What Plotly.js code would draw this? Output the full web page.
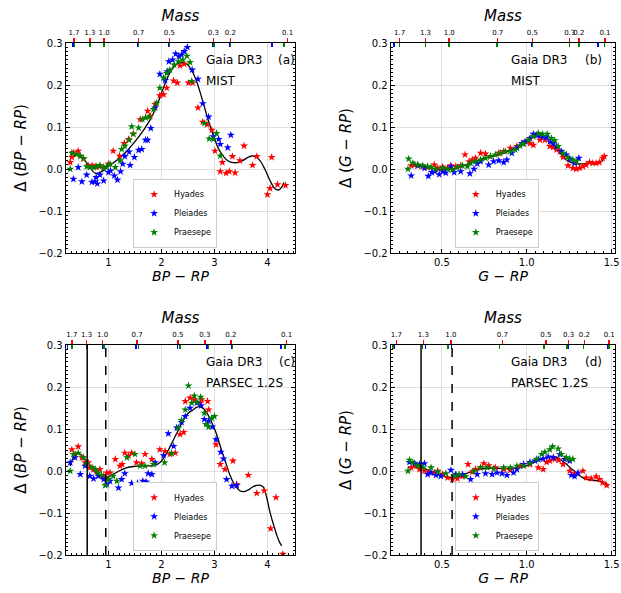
<!DOCTYPE html>
<html><head><meta charset="utf-8">
<script src="https://cdn.plot.ly/plotly-3.0.1.min.js"></script>
<style>body{margin:0;background:#fff}#chart{width:621px;height:593px}</style>
</head><body><div id="chart"></div>
<script>
// ---------- DATA ----------
const clusters = ['Hyades','Pleiades','Praesepe'];
const massLabels = ['1.7','1.3','1.0','0.7','0.5','0.3','0.2','0.1'];

// Panel (a): Delta(BP-RP) vs BP-RP, MIST
const aHyX = [0.28,0.31,0.34,0.43,0.47,0.53,0.62,0.69,0.75,0.83,0.91,1.00,1.09,1.21,1.30,1.38,1.47,1.60,1.74,1.79,1.88,1.97,2.04,2.10,2.23,2.30,2.35,2.43,2.51,2.59,2.69,2.78,2.86,2.95,3.01,3.11,3.15,3.22,3.28,3.34,3.39,3.48,3.56,3.72,3.80,4.00,4.05,4.08,4.19,4.34];
const aHyY = [0.016,0.028,0.039,0.043,0.031,0.024,0.008,0.008,0.006,0.006,0.004,0.012,0.043,0.031,0.061,0.071,0.084,0.118,0.138,0.126,0.154,0.175,0.177,0.193,0.210,0.205,0.246,0.250,0.205,0.205,0.146,0.112,0.106,0.093,0.043,-0.006,0.016,-0.010,-0.006,0.030,-0.009,0.020,0.055,0.009,0.030,-0.061,-0.046,0.028,-0.037,-0.039];
const aPlX = [0.34,0.43,0.50,0.59,0.69,0.74,0.79,0.77,0.84,0.91,1.00,1.04,1.11,1.17,1.23,1.27,1.31,1.39,1.41,1.49,1.57,1.63,1.70,1.74,1.80,1.88,1.97,2.07,2.11,2.14,2.21,2.27,2.33,2.38,2.43,2.49,2.58,2.69,2.78,2.89,2.98,3.08,3.11,3.25,3.31];
const aPlY = [-0.024,0.004,-0.030,-0.014,-0.031,-0.030,-0.035,-0.020,-0.014,-0.028,-0.008,-0.004,-0.016,-0.026,-0.006,0.012,0.030,0.041,0.009,0.028,0.045,0.047,0.069,0.069,0.097,0.146,0.226,0.211,0.232,0.256,0.260,0.274,0.268,0.272,0.280,0.290,0.236,0.214,0.156,0.124,0.077,0.071,0.059,0.051,0.081];
const aPrX = [0.28,0.31,0.40,0.47,0.53,0.59,0.65,0.72,0.78,0.84,0.91,0.97,1.03,1.13,1.22,1.25,1.31,1.39,1.44,1.47,1.57,1.64,1.70,1.77,1.85,1.91,1.97,2.04,2.10,2.16,2.24,2.32,2.40,2.48,2.54,2.57,2.81,2.90,2.98,3.04,3.11];
const aPrY = [0.000,0.038,0.035,0.031,0.025,0.006,0.004,0.004,0.006,0.009,0.002,0.006,0.012,0.004,0.020,0.047,0.055,0.069,0.101,0.083,0.098,0.118,0.122,0.124,0.142,0.157,0.193,0.217,0.228,0.236,0.248,0.256,0.260,0.269,0.254,0.209,0.109,0.072,0.071,0.085,0.031];
const aFitX = [0.35,0.40,0.50,0.62,0.75,0.88,1.00,1.17,1.35,1.50,1.66,1.80,1.91,2.00,2.10,2.20,2.32,2.40,2.48,2.60,2.70,2.79,2.88,2.98,3.07,3.17,3.26,3.36,3.45,3.55,3.62,3.70,3.78,3.86,3.95,4.05,4.13,4.21,4.27,4.31];
const aFitY = [0.031,0.035,0.028,0.010,-0.010,-0.006,0.006,0.022,0.043,0.065,0.092,0.120,0.150,0.180,0.213,0.238,0.252,0.253,0.250,0.228,0.195,0.157,0.118,0.080,0.050,0.030,0.019,0.015,0.016,0.021,0.027,0.031,0.029,0.020,0.000,-0.028,-0.045,-0.050,-0.043,-0.032];
const aMassHy = [0.35,0.65,0.92,1.57,2.15,2.98,3.30,4.38];
const aMassPl = [0.33,0.64,0.91,1.55,2.14,2.97,3.29,4.09];
const aMassPr = [0.36,0.65,0.92,1.57,2.15,2.99,3.30,4.31];

// Panel (b): Delta(G-RP) vs G-RP, MIST
const bHyX = [0.319,0.339,0.358,0.387,0.416,0.455,0.475,0.504,0.533,0.553,0.582,0.611,0.636,0.660,0.679,0.698,0.728,0.757,0.786,0.835,0.864,0.903,0.942,0.981,1.000,1.019,1.039,1.078,1.107,1.136,1.156,1.175,1.195,1.214,1.243,1.272,1.292,1.311,1.331,1.350,1.370,1.389,1.409,1.428,1.447,1.457];
const bHyY = [0.008,0.010,0.008,0.006,0.004,0.010,0.002,0.005,0.002,0.008,0.006,0.008,0.034,0.018,0.022,0.026,0.038,0.036,0.030,0.038,0.042,0.050,0.054,0.061,0.065,0.061,0.057,0.069,0.069,0.054,0.052,0.046,0.042,0.028,0.008,0.002,0.000,0.002,0.006,0.010,0.016,0.014,0.014,0.016,0.026,0.030];
const bPlX = [0.319,0.358,0.397,0.420,0.440,0.459,0.484,0.504,0.523,0.553,0.572,0.611,0.665,0.689,0.708,0.728,0.776,0.805,0.835,0.864,0.883,0.912,0.942,0.971,0.990,1.019,1.039,1.058,1.078,1.097,1.117,1.136,1.156,1.175,1.204,1.233,1.253,1.282,1.307];
const bPlY = [-0.016,0.008,0.002,-0.017,-0.008,-0.006,-0.013,-0.006,-0.009,0.006,-0.008,-0.006,-0.011,0.000,0.013,0.018,0.010,0.018,0.020,0.016,0.022,0.038,0.050,0.061,0.065,0.073,0.083,0.081,0.079,0.077,0.076,0.065,0.061,0.054,0.042,0.034,0.024,0.014,0.026];
const bPrX = [0.300,0.304,0.329,0.358,0.387,0.416,0.436,0.465,0.504,0.533,0.562,0.591,0.621,0.650,0.669,0.698,0.728,0.757,0.786,0.815,0.844,0.874,0.903,0.932,0.961,0.981,1.010,1.039,1.068,1.093,1.121,1.146,1.165,1.185,1.214,1.243,1.272,1.292];
const bPrY = [0.000,0.024,0.014,0.010,0.008,0.006,0.004,0.000,0.002,0.000,-0.002,0.004,0.008,0.006,0.014,0.018,0.022,0.026,0.030,0.034,0.038,0.042,0.042,0.046,0.055,0.060,0.069,0.077,0.085,0.083,0.083,0.073,0.068,0.054,0.038,0.028,0.022,0.018];
const bFitX = [0.31,0.35,0.40,0.45,0.50,0.55,0.60,0.65,0.70,0.75,0.80,0.85,0.90,0.95,1.00,1.04,1.08,1.12,1.16,1.20,1.24,1.28,1.32,1.36,1.40,1.44,1.46];
const bFitY = [0.010,0.008,0.004,0.001,-0.001,0.000,0.004,0.011,0.019,0.025,0.030,0.036,0.044,0.056,0.069,0.076,0.077,0.072,0.057,0.036,0.020,0.013,0.012,0.014,0.014,0.018,0.028];
const bMassHy = [0.251,0.403,0.543,0.829,1.033,1.253,1.307,1.461];
const bMassPl = [0.218,0.403,0.543,0.825,1.029,1.253,1.307,1.420];
const bMassPr = [0.251,0.403,0.543,0.825,1.033,1.253,1.307,1.459];

// Panel (c): Delta(BP-RP) vs BP-RP, PARSEC 1.2S
const cHyX = [0.31,0.37,0.43,0.50,0.56,0.62,0.65,0.72,0.78,0.84,0.91,0.97,1.03,1.13,1.22,1.26,1.31,1.38,1.44,1.53,1.63,1.69,1.82,1.97,2.07,2.16,2.26,2.35,2.42,2.45,2.54,2.62,2.73,2.76,2.87,2.89,3.03,3.11,3.20,3.35,3.42,3.64,3.80,3.94,4.06,4.16,4.29];
const cHyY = [0.051,0.040,0.058,0.032,0.020,0.020,0.008,0.004,0.000,0.004,-0.012,-0.004,-0.004,0.028,0.012,0.016,0.043,0.036,0.043,0.020,0.018,0.040,0.028,0.051,0.047,0.040,0.043,0.087,0.092,0.166,0.174,0.170,0.162,0.170,0.166,0.146,0.063,0.016,0.004,0.024,-0.032,-0.010,-0.053,-0.047,-0.137,-0.063,-0.198];
const cPlX = [0.28,0.37,0.47,0.56,0.65,0.72,0.81,0.91,0.97,1.03,1.19,1.25,1.31,1.44,1.55,1.65,1.71,1.75,1.82,1.88,2.04,2.13,2.23,2.29,2.38,2.45,2.54,2.67,2.75,2.81,2.89,2.96,3.03,3.12,3.17,3.23,3.33,3.42];
const cPlY = [0.020,0.032,-0.008,0.012,-0.012,-0.018,-0.012,-0.020,-0.032,-0.024,-0.040,-0.020,-0.006,-0.029,-0.029,-0.024,-0.026,-0.006,-0.008,0.020,0.037,0.089,0.059,0.103,0.116,0.130,0.150,0.162,0.156,0.123,0.119,0.105,0.075,0.045,0.029,-0.020,-0.036,-0.034];
const cPrX = [0.28,0.34,0.43,0.53,0.59,0.69,0.75,0.81,0.87,0.94,1.00,1.09,1.16,1.35,1.50,1.60,1.69,1.85,2.06,2.19,2.32,2.38,2.45,2.51,2.57,2.62,2.67,2.74,2.81,2.84,2.89,2.95,3.00];
const cPrY = [0.000,0.040,0.043,0.032,0.018,0.009,0.004,-0.004,-0.010,-0.034,-0.020,-0.012,-0.024,0.032,0.040,0.012,0.012,0.016,0.020,0.042,0.103,0.121,0.146,0.203,0.162,0.179,0.164,0.176,0.138,0.111,0.105,0.126,0.130];
const cFitX = [0.28,0.34,0.40,0.47,0.53,0.59,0.66,0.72,0.78,0.85,0.94,1.02,1.09,1.20,1.35,1.50,1.60,1.72,1.85,1.95,2.04,2.13,2.23,2.33,2.42,2.51,2.60,2.67,2.73,2.80,2.86,2.92,2.98,3.05,3.11,3.20,3.30,3.39,3.48,3.56,3.64,3.72,3.80,3.87,3.92,3.98,4.05,4.12,4.18,4.23,4.27];
const cFitY = [0.012,0.033,0.043,0.040,0.032,0.024,0.012,0.002,-0.008,-0.014,-0.016,-0.013,-0.008,0.000,0.008,0.011,0.012,0.012,0.013,0.018,0.030,0.050,0.075,0.100,0.123,0.138,0.146,0.152,0.153,0.148,0.138,0.124,0.107,0.084,0.059,0.025,-0.012,-0.035,-0.047,-0.049,-0.045,-0.038,-0.034,-0.034,-0.038,-0.060,-0.099,-0.130,-0.154,-0.170,-0.178];
const cMassHy = [0.31,0.59,0.89,1.54,2.31,2.82,3.31,4.36];
const cMassPl = [0.23,0.59,0.89,1.52,2.30,2.86,3.33,4.26];
const cMassPr = [0.31,0.60,0.92,1.57,2.35,2.89,3.34,4.33];
const cSolidLine = [0.60];
const cDashedLine = [0.95];

// Panel (d): Delta(G-RP) vs G-RP, PARSEC 1.2S
const dHyX = [0.319,0.348,0.368,0.397,0.426,0.455,0.475,0.504,0.533,0.562,0.591,0.621,0.654,0.679,0.698,0.728,0.747,0.776,0.815,0.864,0.903,0.961,1.019,1.068,1.097,1.117,1.136,1.165,1.189,1.214,1.253,1.282,1.331,1.350,1.379,1.409,1.428,1.447,1.471];
const dHyY = [0.008,0.012,0.004,0.000,-0.004,-0.004,0.000,-0.008,-0.016,-0.020,-0.018,-0.013,0.016,-0.002,0.004,0.008,0.018,0.013,0.008,0.004,0.002,0.012,0.016,0.008,0.004,0.021,0.024,0.028,0.026,0.016,0.000,-0.006,0.000,-0.016,-0.018,-0.013,-0.020,-0.028,-0.034];
const dPlX = [0.309,0.339,0.368,0.397,0.416,0.436,0.465,0.494,0.553,0.582,0.621,0.669,0.708,0.757,0.796,0.825,0.854,0.883,0.922,0.942,0.981,1.019,1.049,1.068,1.097,1.126,1.156,1.195,1.224,1.253,1.263,1.282,1.302];
const dPlY = [0.021,0.018,0.016,0.018,-0.008,-0.004,-0.010,-0.012,0.002,-0.008,-0.008,-0.020,-0.008,-0.006,-0.008,-0.004,-0.006,-0.010,-0.004,0.004,0.016,0.021,0.024,0.028,0.029,0.034,0.032,0.040,0.028,0.024,-0.010,-0.013,-0.004];
const dPrX = [0.300,0.309,0.329,0.358,0.387,0.436,0.475,0.523,0.572,0.601,0.640,0.689,0.728,0.767,0.805,0.864,0.903,0.942,0.981,1.019,1.058,1.088,1.107,1.136,1.152,1.185,1.204,1.233,1.253,1.272];
const dPrY = [0.000,0.026,0.020,0.013,0.008,0.008,-0.002,-0.006,-0.012,-0.008,-0.013,0.000,0.008,0.008,0.006,0.008,0.008,0.012,0.012,0.018,0.028,0.040,0.045,0.051,0.058,0.053,0.040,0.032,0.029,0.028];
const dFitX = [0.30,0.34,0.38,0.42,0.47,0.51,0.56,0.60,0.65,0.70,0.75,0.80,0.86,0.92,0.96,1.00,1.04,1.08,1.12,1.165,1.21,1.24,1.26,1.28,1.30,1.33,1.35,1.39,1.43,1.46,1.48];
const dFitY = [0.008,0.010,0.009,0.002,-0.008,-0.013,-0.016,-0.013,-0.005,0.002,0.006,0.007,0.006,0.007,0.009,0.013,0.020,0.027,0.032,0.034,0.024,0.014,0.006,0.000,-0.008,-0.016,-0.020,-0.022,-0.024,-0.028,-0.036];
const dMassHy = [0.232,0.391,0.553,0.856,1.113,1.247,1.339,1.486];
const dMassPl = [0.218,0.403,0.556,0.840,1.101,1.247,1.335,1.479];
const dMassPr = [0.212,0.387,0.537,0.840,1.101,1.237,1.335,1.486];
const dSolidLine = [0.377];
const dDashedLine = [0.56];

// ---------- STYLE / LAYOUT ----------
const F = 'DejaVu Sans, sans-serif';
const COLORS = ['#ff0000','#0000ff','#008000'];
const RANGE_BP = [0.2, 4.52], RANGE_G = [0.2, 1.52], RANGE_Y = [-0.2, 0.3];
const xDomL = [66/621, 295/621], xDomR = [391/621, 615/621];
const yDomT = [1-253/593, 1-43/593], yDomB = [1-555/593, 1-345/593];

const bpTitle = '<i>BP</i> − <i>RP</i>';
const gTitle = '<i>G</i> − <i>RP</i>';
const dbpTitle = 'Δ (<i>BP</i> − <i>RP</i>)';
const dgTitle = 'Δ (<i>G</i> − <i>RP</i>)';

function mainX(dom, anchor, range, dtick, minor, fmt, title) {
  return {domain: dom, anchor: anchor, range: range, dtick: dtick, tick0: 0, tickformat: fmt,
    ticks: 'inside', ticklen: 4, tickwidth: 1, tickcolor: 'black',
    mirror: true, showline: true, linecolor: 'black', linewidth: 1.3,
    showgrid: true, gridcolor: '#dedede', gridwidth: 1, zeroline: false,
    minor: {ticks: 'inside', ticklen: 2, dtick: minor, tickcolor: 'black', showgrid: false},
    tickfont: {family: F, size: 10, color: 'black'},
    title: {text: title, font: {family: F, size: 14, color: 'black'}, standoff: 3}};
}
function mainY(dom, anchor, title) {
  return {domain: dom, anchor: anchor, range: RANGE_Y, dtick: 0.1, tick0: 0, tickformat: '.1f',
    ticks: 'inside', ticklen: 4, tickwidth: 1, tickcolor: 'black',
    mirror: 'ticks', showline: true, linecolor: 'black', linewidth: 1.3,
    showgrid: true, gridcolor: '#dedede', gridwidth: 1, zeroline: false,
    minor: {ticks: 'inside', ticklen: 2, dtick: 0.01, tickcolor: 'black', showgrid: false},
    tickfont: {family: F, size: 10, color: 'black'},
    title: {text: title, font: {family: F, size: 15, color: 'black'}, standoff: 8}};
}
function topAx(overlay, anchor, range, vals, color, withLabels) {
  const ax = {overlaying: overlay, anchor: anchor, side: 'top', range: range,
    tickmode: 'array', tickvals: vals, ticktext: withLabels ? massLabels : vals.map(() => ''),
    ticks: withLabels ? 'outside' : 'inside', ticklen: 4, tickwidth: 1.5, tickcolor: color,
    showgrid: false, zeroline: false, showline: false, showticklabels: withLabels,
    tickangle: 0, tickfont: {family: F, size: 7, color: 'black'}};
  if (withLabels) ax.title = {text: '<i>Mass</i>', font: {family: F, size: 15, color: 'black'}, standoff: 3};
  return ax;
}
function leg(x, y) {
  return {x: x, y: y, xref: 'paper', yref: 'paper', xanchor: 'center', yanchor: 'bottom',
    bgcolor: 'white', bordercolor: '#cccccc', borderwidth: 1,
    font: {family: F, size: 8, color: 'black'}, itemwidth: 30, tracegroupgap: 0};
}

const panels = [
  {xa: 'x',  ya: 'y',  lg: 'legend',  sets: [[aHyX,aHyY],[aPlX,aPlY],[aPrX,aPrY]], fit: [aFitX,aFitY]},
  {xa: 'x3', ya: 'y2', lg: 'legend2', sets: [[bHyX,bHyY],[bPlX,bPlY],[bPrX,bPrY]], fit: [bFitX,bFitY]},
  {xa: 'x5', ya: 'y3', lg: 'legend3', sets: [[cHyX,cHyY],[cPlX,cPlY],[cPrX,cPrY]], fit: [cFitX,cFitY]},
  {xa: 'x7', ya: 'y4', lg: 'legend4', sets: [[dHyX,dHyY],[dPlX,dPlY],[dPrX,dPrY]], fit: [dFitX,dFitY]}
];

const traces = [];
panels.forEach(p => {
  traces.push({type: 'scatter', mode: 'lines', x: p.fit[0], y: p.fit[1], xaxis: p.xa, yaxis: p.ya,
    line: {color: 'black', width: 1.3, shape: 'spline', smoothing: 1}, showlegend: false, hoverinfo: 'skip'});
  p.sets.forEach((s, i) => {
    traces.push({type: 'scatter', mode: 'markers', x: s[0], y: s[1], xaxis: p.xa, yaxis: p.ya,
      name: clusters[i], legend: p.lg,
      marker: {symbol: 'star', size: 6, color: COLORS[i], line: {width: 0}}});
  });
});

// attach (invisible) traces to the mass axes so that they get drawn
const massAxes = [
  ['x9','y',aMassPl],['x10','y',aMassPr],['x2','y',aMassHy],
  ['x11','y2',bMassPl],['x12','y2',bMassPr],['x4','y2',bMassHy],
  ['x13','y3',cMassPl],['x14','y3',cMassPr],['x6','y3',cMassHy],
  ['x15','y4',dMassPl],['x16','y4',dMassPr],['x8','y4',dMassHy]
];
massAxes.forEach(([xa, ya, vals]) => {
  traces.push({type: 'scatter', mode: 'none', x: vals, y: vals.map(() => null), xaxis: xa, yaxis: ya,
    showlegend: false, hoverinfo: 'skip'});
});

const layout = {
  width: 621, height: 593, margin: {l: 0, r: 0, t: 0, b: 0},
  paper_bgcolor: 'white', plot_bgcolor: 'white', font: {family: F, color: 'black'},
  xaxis:  mainX(xDomL, 'y',  RANGE_BP, 1, 0.1, 'd', bpTitle),
  xaxis3: mainX(xDomR, 'y2', RANGE_G, 0.5, 0.05, '.1f', gTitle),
  xaxis5: mainX(xDomL, 'y3', RANGE_BP, 1, 0.1, 'd', bpTitle),
  xaxis7: mainX(xDomR, 'y4', RANGE_G, 0.5, 0.05, '.1f', gTitle),
  yaxis:  mainY(yDomT, 'x',  dbpTitle),
  yaxis2: mainY(yDomT, 'x3', dgTitle),
  yaxis3: mainY(yDomB, 'x5', dbpTitle),
  yaxis4: mainY(yDomB, 'x7', dgTitle),
  xaxis9:  topAx('x',  'y',  RANGE_BP, aMassPl, COLORS[1], false),
  xaxis10: topAx('x',  'y',  RANGE_BP, aMassPr, COLORS[2], false),
  xaxis2:  topAx('x',  'y',  RANGE_BP, aMassHy, COLORS[0], true),
  xaxis11: topAx('x3', 'y2', RANGE_G, bMassPl, COLORS[1], false),
  xaxis12: topAx('x3', 'y2', RANGE_G, bMassPr, COLORS[2], false),
  xaxis4:  topAx('x3', 'y2', RANGE_G, bMassHy, COLORS[0], true),
  xaxis13: topAx('x5', 'y3', RANGE_BP, cMassPl, COLORS[1], false),
  xaxis14: topAx('x5', 'y3', RANGE_BP, cMassPr, COLORS[2], false),
  xaxis6:  topAx('x5', 'y3', RANGE_BP, cMassHy, COLORS[0], true),
  xaxis15: topAx('x7', 'y4', RANGE_G, dMassPl, COLORS[1], false),
  xaxis16: topAx('x7', 'y4', RANGE_G, dMassPr, COLORS[2], false),
  xaxis8:  topAx('x7', 'y4', RANGE_G, dMassHy, COLORS[0], true),
  legend:  leg(0.282, 0.582),
  legend2: leg(0.80, 0.582),
  legend3: leg(0.282, 0.0708),
  legend4: leg(0.80, 0.0708),
  shapes: [],
  annotations: [],
  showlegend: true
};

[['x5','y3',cSolidLine,cDashedLine],['x7','y4',dSolidLine,dDashedLine]].forEach(([xa, ya, sol, das]) => {
  sol.forEach(v => layout.shapes.push({type: 'line', xref: xa, yref: ya + ' domain', x0: v, x1: v, y0: 0, y1: 1,
    line: {color: 'black', width: 1.5}}));
  das.forEach(v => layout.shapes.push({type: 'line', xref: xa, yref: ya + ' domain', x0: v, x1: v, y0: 0, y1: 1,
    line: {color: 'black', width: 1.5, dash: 'dash'}}));
});

const ann = [
  ['x','y',0.603,0.964,'(a)','MIST'],
  ['x3','y2',0.527,0.906,'(b)','MIST'],
  ['x5','y3',0.603,0.964,'(c)','PARSEC 1.2S'],
  ['x7','y4',0.527,0.906,'(d)','PARSEC 1.2S']
];
ann.forEach(([xa, ya, gx, lx, lab, model]) => {
  const base = {xref: xa + ' domain', yref: ya + ' domain', showarrow: false, yanchor: 'middle',
    font: {family: F, size: 12, color: 'black'}};
  layout.annotations.push(Object.assign({}, base, {x: gx, y: 0.917, xanchor: 'left', text: 'Gaia DR3'}));
  layout.annotations.push(Object.assign({}, base, {x: lx, y: 0.917, xanchor: 'center', text: lab}));
  layout.annotations.push(Object.assign({}, base, {x: gx, y: 0.82, xanchor: 'left', text: model}));
});

Plotly.newPlot('chart', traces, layout, {displayModeBar: false, staticPlot: true});
</script></body></html>
